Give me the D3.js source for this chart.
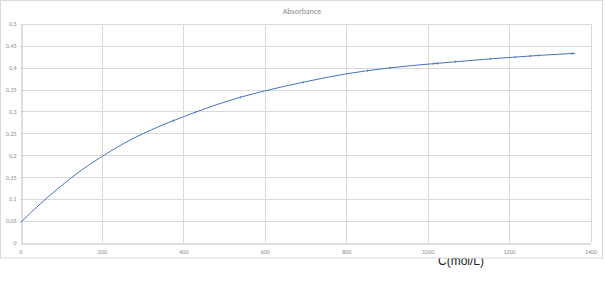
<!DOCTYPE html>
<html lang="en">
  <head>
    <meta charset="utf-8">
    <title></title>
    <style>
      body { margin: 0; background: #fff; }
      svg { display: block; }
    </style>
  </head>
  <body>
    <div id="chart"></div>
  </body>
  <script src="https://cdnjs.cloudflare.com/ajax/libs/d3/7.8.5/d3.min.js"></script>
  <script type="text/javascript">

    // curve
    const concentration = [0, 50, 100, 150, 200, 250, 300, 370, 430, 540, 600, 700, 800, 850, 910, 1010, 1060, 1150, 1210, 1270, 1362]
    const absorbance = [0.046, 0.090, 0.130, 0.166, 0.197, 0.225, 0.249, 0.277, 0.2985, 0.3325, 0.347, 0.368, 0.386, 0.393, 0.400, 0.409, 0.413, 0.420, 0.424, 0.428, 0.433]

    // small markers along the upper part of the curve
    const markerX = [375, 430, 540, 694, 852, 908, 1014, 1024, 1068, 1154, 1215, 1252, 1272, 1355]

    const xTicks = [0, 200, 400, 600, 800, 1000, 1200, 1400]
    const yTicks = [0, 0.05, 0.1, 0.15, 0.2, 0.25, 0.3, 0.35, 0.4, 0.45, 0.5]

    const width = 605, height = 296
    const plot = { left: 20.5, right: 590.5, top: 24, bottom: 242.7 }
    const lineColor = '#4a72b8'
    const gridColor = '#d9d9d9'
    const labelColor = '#8c8c8c'

    const svg = d3.select('#chart')
      .append('svg')
      .attr('width', width)
      .attr('height', height)
      .style('font-family', 'Calibri, Carlito, "Liberation Sans", Arial, sans-serif')

    const x = d3.scaleLinear().domain([0, 1400]).range([plot.left, plot.right])
    const y = d3.scaleLinear().domain([0, 0.5]).range([plot.bottom, plot.top])

    // axis title sits under the frame, its top gets hidden by it
    svg.append('text')
      .attr('x', 461)
      .attr('y', 264.5)
      .attr('text-anchor', 'middle')
      .style('font-size', '12px')
      .style('font-family', '"Liberation Sans", Arial, sans-serif')
      .attr('fill', '#222')
      .text('C(mol/L)')

    // chart frame
    svg.append('rect')
      .attr('x', 0.5)
      .attr('y', 0.5)
      .attr('width', 602)
      .attr('height', 257.5)
      .attr('fill', '#fff')
      .attr('stroke', gridColor)

    svg.append('text')
      .attr('x', 302)
      .attr('y', 14)
      .attr('text-anchor', 'middle')
      .style('font-size', '8px')
      .attr('fill', '#8a8a8a')
      .text('Absorbance')

    // grid
    const grid = svg.append('g')
    grid.selectAll('.hgrid')
      .data(yTicks.filter(d => d > 0))
      .enter()
      .append('line')
      .attr('x1', plot.left).attr('x2', plot.right)
      .attr('y1', d => Math.round(y(d)) + 0.5).attr('y2', d => Math.round(y(d)) + 0.5)
      .attr('stroke', gridColor)
    grid.selectAll('.vgrid')
      .data(xTicks.filter(d => d > 0))
      .enter()
      .append('line')
      .attr('y1', plot.top).attr('y2', plot.bottom)
      .attr('x1', d => Math.round(x(d)) + 0.5).attr('x2', d => Math.round(x(d)) + 0.5)
      .attr('stroke', gridColor)

    // axes
    const xAxis = svg.append('g')
      .attr('transform', `translate(0, ${Math.round(plot.bottom) + 0.5})`)
      .call(d3.axisBottom(x).tickValues(xTicks).tickSize(0).tickPadding(6).tickFormat(d3.format('d')))
    const yAxis = svg.append('g')
      .attr('transform', `translate(${Math.round(plot.left) + 0.5}, 0)`)
      .call(d3.axisLeft(y).tickValues(yTicks).tickSize(0).tickPadding(5)
        .tickFormat(d => d === 0 ? '0' : String(+d.toFixed(2)).replace('.', ',')))

    for (const ax of [xAxis, yAxis]) {
      ax.select('.domain').attr('stroke', '#bfbfbf')
      ax.selectAll('text')
        .attr('fill', labelColor)
        .style('font-size', '6px')
        .style('font-family', 'Calibri, Carlito, "Liberation Sans", Arial, sans-serif')
    }

    // curve
    const pts = concentration.map((c, i) => [c, absorbance[i]])
    const line = d3.line()
      .x(d => x(d[0]))
      .y(d => y(d[1]))
      .curve(d3.curveMonotoneX)

    svg.append('path')
      .datum(pts)
      .attr('d', line)
      .attr('fill', 'none')
      .attr('stroke', lineColor)
      .attr('stroke-width', 1)

    // markers: y
    const interp = d3.scaleLinear().domain(concentration).range(absorbance)
    svg.selectAll('.marker')
      .data(markerX)
      .enter()
      .append('line')
      .attr('class', 'marker')
      .attr('x1', d => x(d)).attr('x2', d => x(d))
      .attr('y1', d => y(interp(d)) - 1.2).attr('y2', d => y(interp(d)) + 1.2)
      .attr('stroke', lineColor)
      .attr('stroke-width', 0.8)

  </script>
</html>
